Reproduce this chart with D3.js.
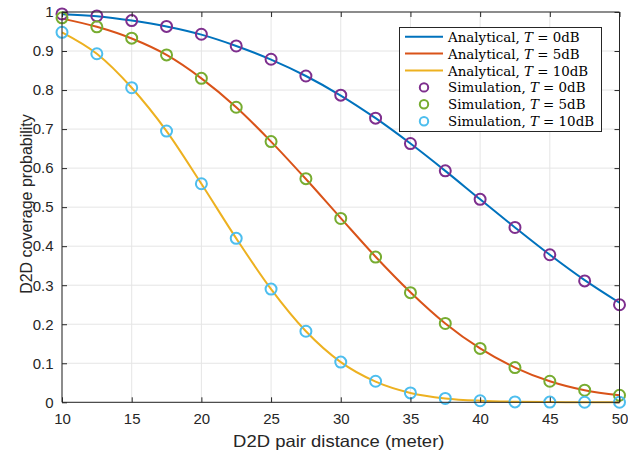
<!DOCTYPE html>
<html><head><meta charset="utf-8">
<script src="https://cdn.jsdelivr.net/npm/d3@7"></script>
<style>body{margin:0;background:#fff;}svg{display:block;}</style>
</head><body>
<svg id="c" width="628" height="456"></svg>
<script>
const distances = [10,12.5,15,17.5,20,22.5,25,27.5,30,32.5,35,37.5,40,42.5,45,47.5,50];
const simT0 = [0.995,0.990,0.978,0.963,0.943,0.913,0.879,0.836,0.787,0.728,0.663,0.593,0.520,0.448,0.378,0.311,0.250];
const simT5 = [0.985,0.962,0.933,0.890,0.830,0.756,0.668,0.573,0.471,0.372,0.281,0.202,0.138,0.089,0.054,0.031,0.018];
const simT10 = [0.948,0.893,0.806,0.695,0.560,0.420,0.290,0.182,0.103,0.054,0.024,0.010,0.004,0.001,0.0005,0.0002,0.0001];
const anaT0 = [0.994,0.989,0.978,0.963,0.942,0.913,0.878,0.836,0.786,0.728,0.663,0.593,0.520,0.448,0.378,0.313,0.255];
const anaT5 = [0.983,0.962,0.932,0.890,0.830,0.756,0.668,0.572,0.472,0.373,0.282,0.202,0.138,0.089,0.054,0.031,0.018];
const anaT10 = [0.948,0.893,0.806,0.695,0.560,0.420,0.290,0.182,0.103,0.053,0.024,0.010,0.004,0.0015,0.0005,0.0002,0.0001];
const xTicks = [10,15,20,25,30,35,40,45,50];
const yTicks = [0,0.1,0.2,0.3,0.4,0.5,0.6,0.7,0.8,0.9,1];
const legendLabels = ["Analytical, ","Analytical, ","Analytical, ","Simulation, ","Simulation, ","Simulation, "];
const legendT = ["0dB","5dB","10dB","0dB","5dB","10dB"];

const svg = d3.select("#c");
const L=62, R=619.5, T=12, B=402.3;
const x = d3.scaleLinear().domain([10,50]).range([L,R]);
const y = d3.scaleLinear().domain([0,1]).range([B,T]);
const axisCol="#262626";
const sans="'Liberation Sans',Arial,sans-serif";

// grid
const g = svg.append("g");
g.selectAll(".gx").data(xTicks).enter().append("line")
 .attr("x1",d=>x(d)).attr("x2",d=>x(d)).attr("y1",T).attr("y2",B)
 .attr("stroke","#e5e5e5").attr("stroke-width",1);
g.selectAll(".gy").data(yTicks).enter().append("line")
 .attr("y1",d=>y(d)).attr("y2",d=>y(d)).attr("x1",L).attr("x2",R)
 .attr("stroke","#e5e5e5").attr("stroke-width",1);

const colors = ["#0072BD","#D95319","#EDB120"];
const mcolors = ["#7E2F8E","#77AC30","#4DBEEE"];
const ana=[anaT0,anaT5,anaT10], sim=[simT0,simT5,simT10];
const line = d3.line().x((d,i)=>x(distances[i])).y(d=>y(d)).curve(d3.curveMonotoneX);
ana.forEach((s,k)=>{
  svg.append("path").attr("d",line(s)).attr("fill","none")
   .attr("stroke",colors[k]).attr("stroke-width",2);
});
sim.forEach((s,k)=>{
  svg.append("g").selectAll("circle").data(s).enter().append("circle")
   .attr("cx",(d,i)=>x(distances[i])).attr("cy",d=>y(d)).attr("r",5.5)
   .attr("fill","none").attr("stroke",mcolors[k]).attr("stroke-width",2);
});

// axes
const ax = svg.append("g").attr("transform",`translate(0,${B})`)
 .call(d3.axisBottom(x).tickValues(xTicks).tickSize(-5).tickPadding(11).tickFormat(d3.format("d")));
const ay = svg.append("g").attr("transform",`translate(${L},0)`)
 .call(d3.axisLeft(y).tickValues(yTicks).tickSize(-5).tickPadding(8.5).tickFormat(d=>d===0?"0":(d===1?"1":d3.format(".1f")(d))));
const at = svg.append("g").attr("transform",`translate(0,${T})`)
 .call(d3.axisTop(x).tickValues(xTicks).tickSize(-5).tickFormat(""));
const ar = svg.append("g").attr("transform",`translate(${R},0)`)
 .call(d3.axisRight(y).tickValues(yTicks).tickSize(-5).tickFormat(""));
[ax,ay,at,ar].forEach(a=>{
  a.selectAll("path,line").attr("stroke",axisCol).attr("stroke-width",1);
  a.selectAll("text").attr("fill",axisCol).style("font-family",sans).style("font-size","15px");
});
ax.select(".domain").attr("d",`M${L},0H${R}`);
at.select(".domain").attr("d",`M${L},0H${R}`);
ay.select(".domain").attr("d",`M0,${T}V${B}`);
ar.select(".domain").attr("d",`M0,${T}V${B}`);

svg.append("text").attr("transform",`translate(${(L+R)/2 - 2},447) scale(1.12,1)`).attr("text-anchor","middle")
 .attr("fill",axisCol).style("font-family",sans).style("font-size","16.5px")
 .text("D2D pair distance (meter)");
svg.append("text").attr("transform",`translate(32,204) rotate(-90)`).attr("text-anchor","middle")
 .attr("fill",axisCol).style("font-family",sans).style("font-size","16px")
 .text("D2D coverage probability");

// legend
const lg = svg.append("g");
lg.append("rect").attr("x",399.5).attr("y",27.5).attr("width",202).attr("height",104)
 .attr("fill","#fff").attr("stroke",axisCol).attr("stroke-width",1);
legendLabels.forEach((lab,i)=>{
  const yy = 36.7 + i*16.9;
  if(i<3){
    lg.append("line").attr("x1",405).attr("x2",443).attr("y1",yy).attr("y2",yy)
     .attr("stroke",colors[i]).attr("stroke-width",2);
  } else {
    lg.append("circle").attr("cx",424).attr("cy",yy).attr("r",4.2).attr("fill","none")
     .attr("stroke",mcolors[i-3]).attr("stroke-width",2);
  }
  const t = lg.append("text").attr("x",448).attr("y",yy+5)
   .attr("fill","#000").style("font-family","'DejaVu Serif','Liberation Serif',serif").style("font-size","13.4px");
  t.append("tspan").text(lab);
  t.append("tspan").style("font-style","italic").text("T");
  t.append("tspan").text(" = "+legendT[i]);
});
</script>
</body></html>
